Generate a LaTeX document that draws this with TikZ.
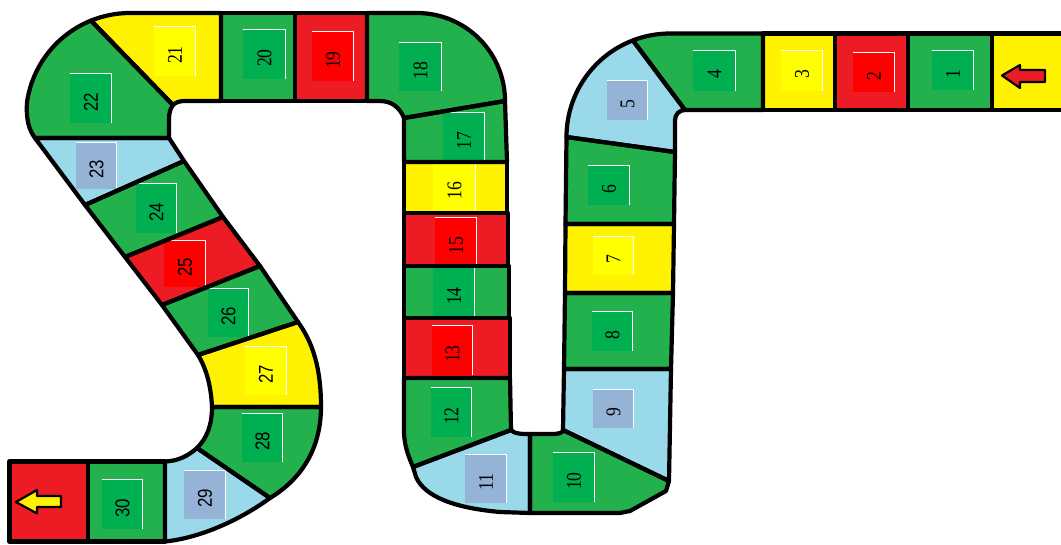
\documentclass[tikz,border=0pt]{standalone}
\usepackage{fontspec}
\setmainfont{Liberation Serif}
\newfontfamily\labsans{Liberation Sans}
\usepackage{graphicx}
\definecolor{cg}{HTML}{22B14C}
\definecolor{cgi}{HTML}{00B050}
\definecolor{cy}{HTML}{FFF200}
\definecolor{cyi}{HTML}{FFFF00}
\definecolor{cr}{HTML}{ED1C24}
\definecolor{cri}{HTML}{FF0000}
\definecolor{cb}{HTML}{99D9EA}
\definecolor{cbi}{HTML}{95B3D7}
% cell outlines (pixel coordinates, y downwards)
\def\cpst{(992,33.5) -- (1075,33.5) -- (1075,110) -- (992,110) -- cycle}
\def\cpa{(908,33.5) rectangle (992,110)}
\def\cpb{(835,33.5) rectangle (908,110)}
\def\cpc{(763,33.5) rectangle (835,110)}
\def\cpd{(763,33.5) -- (670,33.5) arc[start angle=270,end angle=249,radius=103.5] -- (685,110) -- (763,110) -- cycle}
\def\cpe{(632.9,40.4) arc[start angle=249,end angle=180,radius=103.5] -- (675,152) -- (675,120) arc[start angle=180,end angle=270,radius=10] -- cycle}
\def\cpf{(566.5,137) -- (675,152) -- (674,224) -- (565.5,224) -- cycle}
\def\cpg{(565.5,224) -- (674,224) -- (673,293) -- (565,293) -- cycle}
\def\cph{(565,293) -- (673,293) -- (671,369) -- (564,369) -- cycle}
\def\cpi{(564,369) -- (671,369) -- (669,481) -- (563,430) -- cycle}
\def\cpj{(530,434) -- (552,434) .. controls (558,434) and (563,433) .. (563,430) -- (669,481) -- (666,491) -- (630,511) -- (620,513) -- (530,513) -- cycle}
\def\cpk{(413,467) -- (511,430) .. controls (514,434) and (522,434) .. (530,434) -- (530,513) -- (500,512) .. controls (455,508) and (425,497) .. (416,477) -- cycle}
\def\cpl{(404,378) -- (510,378) -- (511,430) -- (413,467) .. controls (408,455) and (404,445) .. (404,430) -- cycle}
\def\cpm{(404,318) rectangle (510,378)}
\def\cpn{(404,266) rectangle (509,318)}
\def\cpo{(404,213) rectangle (508,266)}
\def\cpp{(404,162) rectangle (507,213)}
\def\cpq{(404,118) -- (505,101) -- (507,162) -- (404,162) -- cycle}
\def\cpr{(367,13) -- (417,13) arc[start angle=270,end angle=360,radius=88] -- (404,118) .. controls (400,108) and (392,101) .. (380,101) -- (367,101) -- cycle}
\def\cps{(295,13) rectangle (367,101)}
\def\cpt{(221,13) rectangle (295,101)}
\def\cpu{(221,13) -- (130,13) arc[start angle=270,end angle=248,radius=104] -- (173,105) .. controls (176,102) and (180,101) .. (185,101) -- (221,101) -- cycle}
\def\cpv{(91,20.6) arc[start angle=248,end angle=188,radius=104] .. controls (26,120) and (29,130) .. (35,138) -- (169,138) -- (169,120) .. controls (169,113) and (170,109) .. (173,105) -- cycle}
\def\cpw{(35,138) -- (169,138) -- (184,161) -- (85,205) -- cycle}
\def\cpx{(85,205) -- (184,161) -- (223,217) -- (125,257) -- cycle}
\def\cpy{(125,257) -- (223,217) -- (260,266) -- (162,305) -- cycle}
\def\cpz{(162,305) -- (260,266) -- (298,322) -- (198,355) -- cycle}
\def\cpza{(198,355) -- (298,322) .. controls (313,343) and (321,368) .. (321,407) -- (212,407) .. controls (211,385) and (206,368) .. (198,355) -- cycle}
\def\cpzb{(212,407) -- (321,407) .. controls (321,450) and (300,480) .. (270,498) -- (197,448) .. controls (207,438) and (212,425) .. (212,407) -- cycle}
\def\cpzc{(197,448) -- (270,498) .. controls (240,520) and (200,538) .. (165,541.5) -- (165,461.5) .. controls (178,461) and (188,456) .. (197,448) -- cycle}
\def\cpzd{(88,461.5) rectangle (165,541.5)}
\def\cpen{(9.5,461.5) rectangle (88,541.5)}
% inner square with white edge and rotated label
\newcommand\sq[7]{%
  \fill[#5] (#1,#2) rectangle (#3,#4);
  \draw[hilite] (#1,#2+0.6) -- (#3-0.6,#2+0.6) -- (#3-0.6,#4);
  \node[lab,#7] (n#6) at ({(#1+#3)/2},{(#2+#4)/2+4}) {\scalebox{0.84}[1]{#6}};
}
\begin{document}
\begin{tikzpicture}[x=1pt,y=-1pt,line join=round,
  border/.style={draw=black,line width=4.2pt},
  hilite/.style={draw=white,line width=1.2pt},
  lab/.style={rotate=90,inner sep=0pt,font=\fontsize{21}{21}\selectfont},
  sanslab/.style={font=\labsans\fontsize{20}{20}\selectfont},
  arrowshape/.style={draw=black,line width=2.2pt}]
\useasboundingbox (0,0) rectangle (1061,544);
\clip (0,0) rectangle (1061,544);
% fills
\fill[cy] \cpst;
\fill[cg] \cpa;  \fill[cr] \cpb;  \fill[cy] \cpc;  \fill[cg] \cpd;
\fill[cb] \cpe;  \fill[cg] \cpf;  \fill[cy] \cpg;  \fill[cg] \cph;
\fill[cb] \cpi;  \fill[cg] \cpj;  \fill[cb] \cpk;  \fill[cg] \cpl;
\fill[cr] \cpm;  \fill[cg] \cpn;  \fill[cr] \cpo;  \fill[cy] \cpp;
\fill[cg] \cpq;  \fill[cg] \cpr;  \fill[cr] \cps;  \fill[cg] \cpt;
\fill[cy] \cpu;  \fill[cg] \cpv;  \fill[cb] \cpw;  \fill[cg] \cpx;
\fill[cr] \cpy;  \fill[cg] \cpz;  \fill[cy] \cpza; \fill[cg] \cpzb;
\fill[cb] \cpzc; \fill[cg] \cpzd; \fill[cr] \cpen;
% inner squares and labels
\sq{932}{50}{974}{90}{cgi}{1}{}
\sq{853}{52}{895}{92}{cri}{2}{}
\sq{781}{50}{823}{91}{cyi}{3}{}
\sq{693}{50}{736}{91}{cgi}{4}{}
\sq{607}{80}{648}{120}{cbi}{5}{}
\sq{588}{165}{630}{205}{cgi}{6}{}
\sq{593}{236}{634}{275}{cyi}{7}{}
\sq{592}{311}{633}{351}{cgi}{8}{}
\sq{593}{389}{634}{428}{cbi}{9}{}
\sq{553}{452}{595}{502}{cgi}{10}{}
\sq{465}{454}{507}{503}{cbi}{11}{}
\sq{431}{387}{472}{437}{cgi}{12}{}
\sq{432}{325}{473}{375}{cri}{13}{}
\sq{433}{267}{475}{317}{cgi}{14}{}
\sq{435}{217}{477}{266}{cri}{15}{}
\sq{433}{163}{476}{210}{cyi}{16}{}
\sq{443}{112}{485}{161}{cgi}{17}{}
\sq{399}{42}{442}{91}{cgi}{18}{}
\sq{312}{31}{354}{81}{cri}{19}{}
\sq{243}{29}{286}{79}{cgi}{20}{}
\sq{154}{26}{196}{76}{cyi}{21}{}
\sq{70}{73}{112}{123}{cgi}{22}{sanslab}
\sq{76}{142}{117}{189}{cbi}{23}{sanslab}
\sq{136}{183}{177}{233}{cgi}{24}{sanslab}
\sq{164}{240}{206}{287}{cri}{25}{sanslab}
\sq{208}{288}{249}{337}{cgi}{26}{sanslab}
\sq{245}{346}{287}{395}{cyi}{27}{sanslab}
\sq{242}{413}{283}{462}{cgi}{28}{sanslab}
\sq{184}{470}{226}{519}{cbi}{29}{sanslab}
\sq{102}{479}{143}{529}{cgi}{30}{sanslab}
% outlines
\foreach \p in {\cpst,\cpa,\cpb,\cpc,\cpd,\cpe,\cpf,\cpg,\cph,\cpi,\cpj,\cpk,\cpl,\cpm,\cpn,\cpo,\cpp,\cpq,\cpr,\cps,\cpt,\cpu,\cpv,\cpw,\cpx,\cpy,\cpz,\cpza,\cpzb,\cpzc,\cpzd,\cpen}
  {\draw[border] \p;}
% start and finish arrows
\filldraw[arrowshape,fill=cr] (1002,75.5) -- (1020,65) -- (1020,70) -- (1045,70) -- (1045,82) -- (1020,82) -- (1020,88) -- cycle;
\filldraw[arrowshape,fill=cy] (16,502) -- (37,490) -- (37,496) -- (61,496) -- (61,507) -- (37,507) -- (37,513.5) -- cycle;
\end{tikzpicture}
\end{document}
